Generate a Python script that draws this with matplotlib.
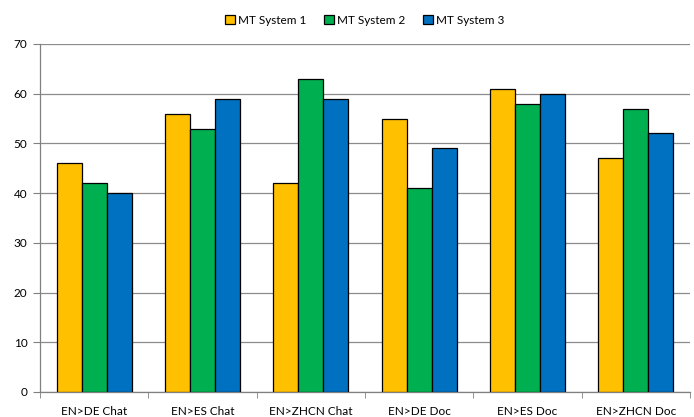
import numpy as np
import matplotlib.pyplot as plt

# categorias e valores
categorias = ['EN>DE Chat', 'EN>ES Chat', 'EN>ZHCN Chat', 'EN>DE Doc', 'EN>ES Doc', 'EN>ZHCN Doc']
sistema1 = [46, 56, 42, 55, 61, 47]
sistema2 = [42, 53, 63, 41, 58, 57]
sistema3 = [40, 59, 59, 49, 60, 52]
nomes = ['MT System 1', 'MT System 2', 'MT System 3']
cores = ['#FFC000', '#00B050', '#0070C0']

plt.rcParams['font.family'] = ['Lato', 'DejaVu Sans']

#criar figura
fig = plt.figure(figsize=(6.94, 4.17), dpi=100)
ax = fig.add_axes([0.0576, 0.06, 0.9366, 0.8345])

x = np.arange(len(categorias))
largura = 0.23
for i, (vals, nome, cor) in enumerate(zip([sistema1, sistema2, sistema3], nomes, cores)):
    ax.bar(x + (i - 1) * largura, vals, largura,
           color=cor, edgecolor='black', linewidth=0.9,
           label=nome, zorder=3)

#eixos
ax.set_xlim(-0.5, len(categorias) - 0.5)
ax.set_ylim(0, 70)
ax.set_yticks(np.arange(0, 71, 10))
ax.set_xticks(x)
ax.set_xticklabels(categorias)
ax.set_xticks(np.arange(-0.5, len(categorias), 1), minor=True)
ax.tick_params(axis='x', which='major', length=0, pad=10, labelsize=8.5)
ax.tick_params(axis='x', which='minor', length=4, color='#808080', direction='out')
ax.tick_params(axis='y', length=5, color='#808080', labelsize=8.5, pad=4)
ax.yaxis.grid(True, color='#8c8c8c', linewidth=0.9, zorder=0)
for lado in ['top', 'right']:
    ax.spines[lado].set_visible(False)
for lado in ['left', 'bottom']:
    ax.spines[lado].set_color('#808080')
    ax.spines[lado].set_linewidth(0.9)

#legenda
ax.legend(loc='upper center', bbox_to_anchor=(0.5, 1.115), ncol=3,
          frameon=False, fontsize=8.5, handlelength=0.8, handleheight=0.8,
          handletextpad=0.3, columnspacing=1.5)

fig.savefig('out.png', dpi=100)
